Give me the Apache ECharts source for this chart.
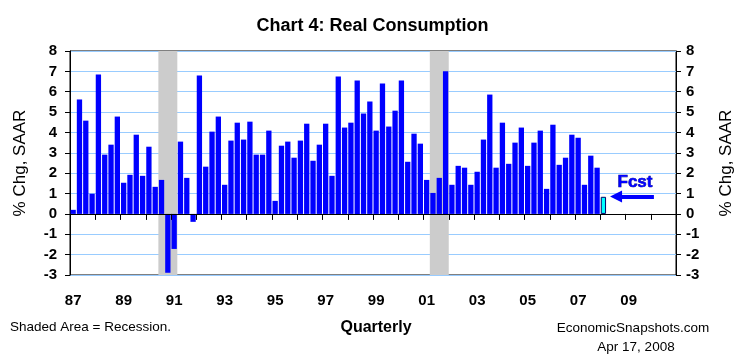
<!DOCTYPE html>
<html>
<head>
<meta charset="utf-8">
<script src="https://cdn.jsdelivr.net/npm/echarts@6/dist/echarts.min.js"></script>
<style>
html,body{margin:0;padding:0;background:#fff;}
#chart{width:745px;height:360px;}
</style>
</head>
<body>
<div id="chart"></div>
<script>
// ---- data ----
const startYear = 1987;
const endYear = 2010;
const quarters = [];
for (let y = startYear; y <= endYear; y++) {
  for (let q = 1; q <= 4; q++) quarters.push(y + 'Q' + q);
}
// Real consumption, % chg SAAR, 1987Q1 .. 2007Q4
const actualValues = [
  0.20, 5.62, 4.58, 0.99,
  6.85, 2.91, 3.40, 4.78,
  1.53, 1.92, 3.89, 1.87,
  3.30, 1.33, 1.67, -2.89,
  -1.72, 3.55, 1.77, -0.39,
  6.80, 2.32, 4.04, 4.78,
  1.43, 3.60, 4.48, 3.65,
  4.53, 2.91, 2.91, 4.09,
  0.64, 3.35, 3.55, 2.76,
  3.60, 4.43, 2.61, 3.40,
  4.43, 1.87, 6.75, 4.24,
  4.48, 6.55, 4.93, 5.52,
  4.09, 6.40, 4.29, 5.07,
  6.55, 2.56, 3.94, 3.45,
  1.67, 1.03, 1.77, 7.00,
  1.43, 2.36, 2.27, 1.43,
  2.07, 3.65, 5.86, 2.27,
  4.48, 2.46, 3.50, 4.24,
  2.36, 3.50, 4.09, 1.23,
  4.38, 2.41, 2.76, 3.89,
  3.74, 1.43, 2.86, 2.27
];
const forecastQuarter = '2008Q1';
const forecastValue = 0.84;
const recessions = [['1990Q3', '1991Q1'], ['2001Q2', '2001Q4']];
const yTicks = [-3, -2, -1, 0, 1, 2, 3, 4, 5, 6, 7, 8];
const labelYears = ['87', '89', '91', '93', '95', '97', '99', '01', '03', '05', '07', '09'];

// ---- build ----
const actualSeries = quarters.map((q, i) => i < actualValues.length ? actualValues[i] : '-');
const fIdx = quarters.indexOf(forecastQuarter);
const forecastSeries = quarters.map((q, i) => i === fIdx ? forecastValue : '-');
const recessionData = recessions.map(r => [quarters.indexOf(r[0]), quarters.indexOf(r[1])]);
const yMin = yTicks[0], yMax = yTicks[yTicks.length - 1];

const FONT = 'Arial, "Liberation Sans", sans-serif';
const chart = echarts.init(document.getElementById('chart'), null, {renderer: 'canvas'});

const yAxisCommon = {
  type: 'value', min: yMin, max: yMax, interval: 1,
  nameLocation: 'middle', nameRotate: 90,
  nameTextStyle: {fontFamily: FONT, fontSize: 17, color: '#000'},
  axisLine: {show: true, lineStyle: {color: '#000', width: 1}},
  axisTick: {show: true, length: 5, inside: false, lineStyle: {color: '#000'}},
  axisLabel: {fontFamily: FONT, fontSize: 15, fontWeight: 'bold', color: '#000'}
};

chart.setOption({
  animation: false,
  backgroundColor: '#fff',
  title: {
    text: 'Chart 4: Real Consumption', left: 'center', top: 12,
    textStyle: {fontFamily: FONT, fontSize: 18, fontWeight: 'bold', color: '#000'}
  },
  grid: {left: 70, top: 51, width: 606, height: 224, show: true, borderColor: '#000', borderWidth: 1, backgroundColor: 'transparent'},
  xAxis: [
    {
      type: 'category', data: quarters, position: 'bottom', boundaryGap: true, z: 5,
      axisLine: {show: true, onZero: true, lineStyle: {color: '#000', width: 1}},
      axisTick: {show: true, interval: 3, length: 6, inside: false, lineStyle: {color: '#000'}},
      axisLabel: {show: false},
      splitLine: {show: false}
    },
    {
      type: 'category', data: quarters, position: 'bottom', boundaryGap: true,
      axisLine: {show: false, onZero: false},
      axisTick: {show: false},
      axisLabel: {
        show: true, margin: 18,
        interval: (i, v) => v.endsWith('Q1') && labelYears.indexOf(v.slice(2, 4)) >= 0,
        formatter: v => v.slice(2, 4),
        fontFamily: FONT, fontSize: 15, fontWeight: 'bold', color: '#000'
      },
      splitLine: {show: false}
    }
  ],
  yAxis: [
    Object.assign({}, yAxisCommon, {
      position: 'left', name: '% Chg, SAAR', nameGap: 41,
      axisLabel: Object.assign({}, yAxisCommon.axisLabel, {margin: 13}),
      splitLine: {show: true, lineStyle: {color: '#99ccff', width: 1}}
    }),
    Object.assign({}, yAxisCommon, {
      position: 'right', name: '% Chg, SAAR', nameGap: 42,
      axisLabel: Object.assign({}, yAxisCommon.axisLabel, {margin: 10}),
      splitLine: {show: false}
    })
  ],
  series: [
    {
      type: 'custom', name: 'Recession', xAxisIndex: 0, yAxisIndex: 0, z: 1,
      data: recessionData,
      encode: {x: [0, 1]},
      renderItem: function (params, api) {
        const w = api.size([1, 0])[0];
        const x0 = api.coord([api.value(0), yMax])[0] - w / 2;
        const x1 = api.coord([api.value(1), yMax])[0] + w / 2;
        const yTop = api.coord([api.value(0), yMax])[1];
        const yBot = api.coord([api.value(0), yMin])[1];
        return {type: 'rect', shape: {x: x0, y: yTop, width: x1 - x0, height: yBot - yTop}, style: {fill: '#cccccc'}};
      },
      silent: true
    },
    {
      type: 'bar', name: 'Actual', xAxisIndex: 0, yAxisIndex: 0, z: 2,
      data: actualSeries, barCategoryGap: '16%', barGap: '-100%',
      itemStyle: {color: '#0000ff'}
    },
    {
      type: 'bar', name: 'Forecast', xAxisIndex: 0, yAxisIndex: 0, z: 2,
      data: forecastSeries, barCategoryGap: '16%', barGap: '-100%',
      itemStyle: {color: '#00ffff', borderColor: '#000066', borderWidth: 1},
      markLine: {
        silent: true, symbol: ['none', 'triangle'], symbolSize: 12, symbolRotate: 90,
        itemStyle: {color: '#0000ff'},
        lineStyle: {color: '#0000ff', width: 4, type: 'solid', opacity: 1},
        label: {show: false},
        data: [[{coord: ['2010Q1', 0.85]}, {coord: ['2008Q3', 0.85]}]]
      },
      markPoint: {
        silent: true, symbol: 'circle', symbolSize: 1,
        itemStyle: {color: 'rgba(0,0,0,0)'},
        label: {show: true, position: 'inside', formatter: 'Fcst', fontFamily: FONT, fontSize: 17, fontWeight: 'bold', color: '#0000ff', textBorderColor: '#000080', textBorderWidth: 0.6},
        data: [{coord: ['2009Q2', 1.55]}]
      }
    }
  ],
  graphic: [
    {type: 'text', style: {x: 10, y: 327, text: 'Shaded Area = Recession.', font: '13.5px ' + FONT, fill: '#000', textAlign: 'left', textVerticalAlign: 'middle'}},
    {type: 'text', style: {x: 376, y: 328, text: 'Quarterly', font: 'bold 16px ' + FONT, fill: '#000', textAlign: 'center', textVerticalAlign: 'middle'}},
    {type: 'text', style: {x: 633, y: 328, text: 'EconomicSnapshots.com', font: '13.5px ' + FONT, fill: '#000', textAlign: 'center', textVerticalAlign: 'middle'}},
    {type: 'text', style: {x: 636, y: 347, text: 'Apr 17, 2008', font: '13.5px ' + FONT, fill: '#000', textAlign: 'center', textVerticalAlign: 'middle'}}
  ]
});
</script>
</body>
</html>
